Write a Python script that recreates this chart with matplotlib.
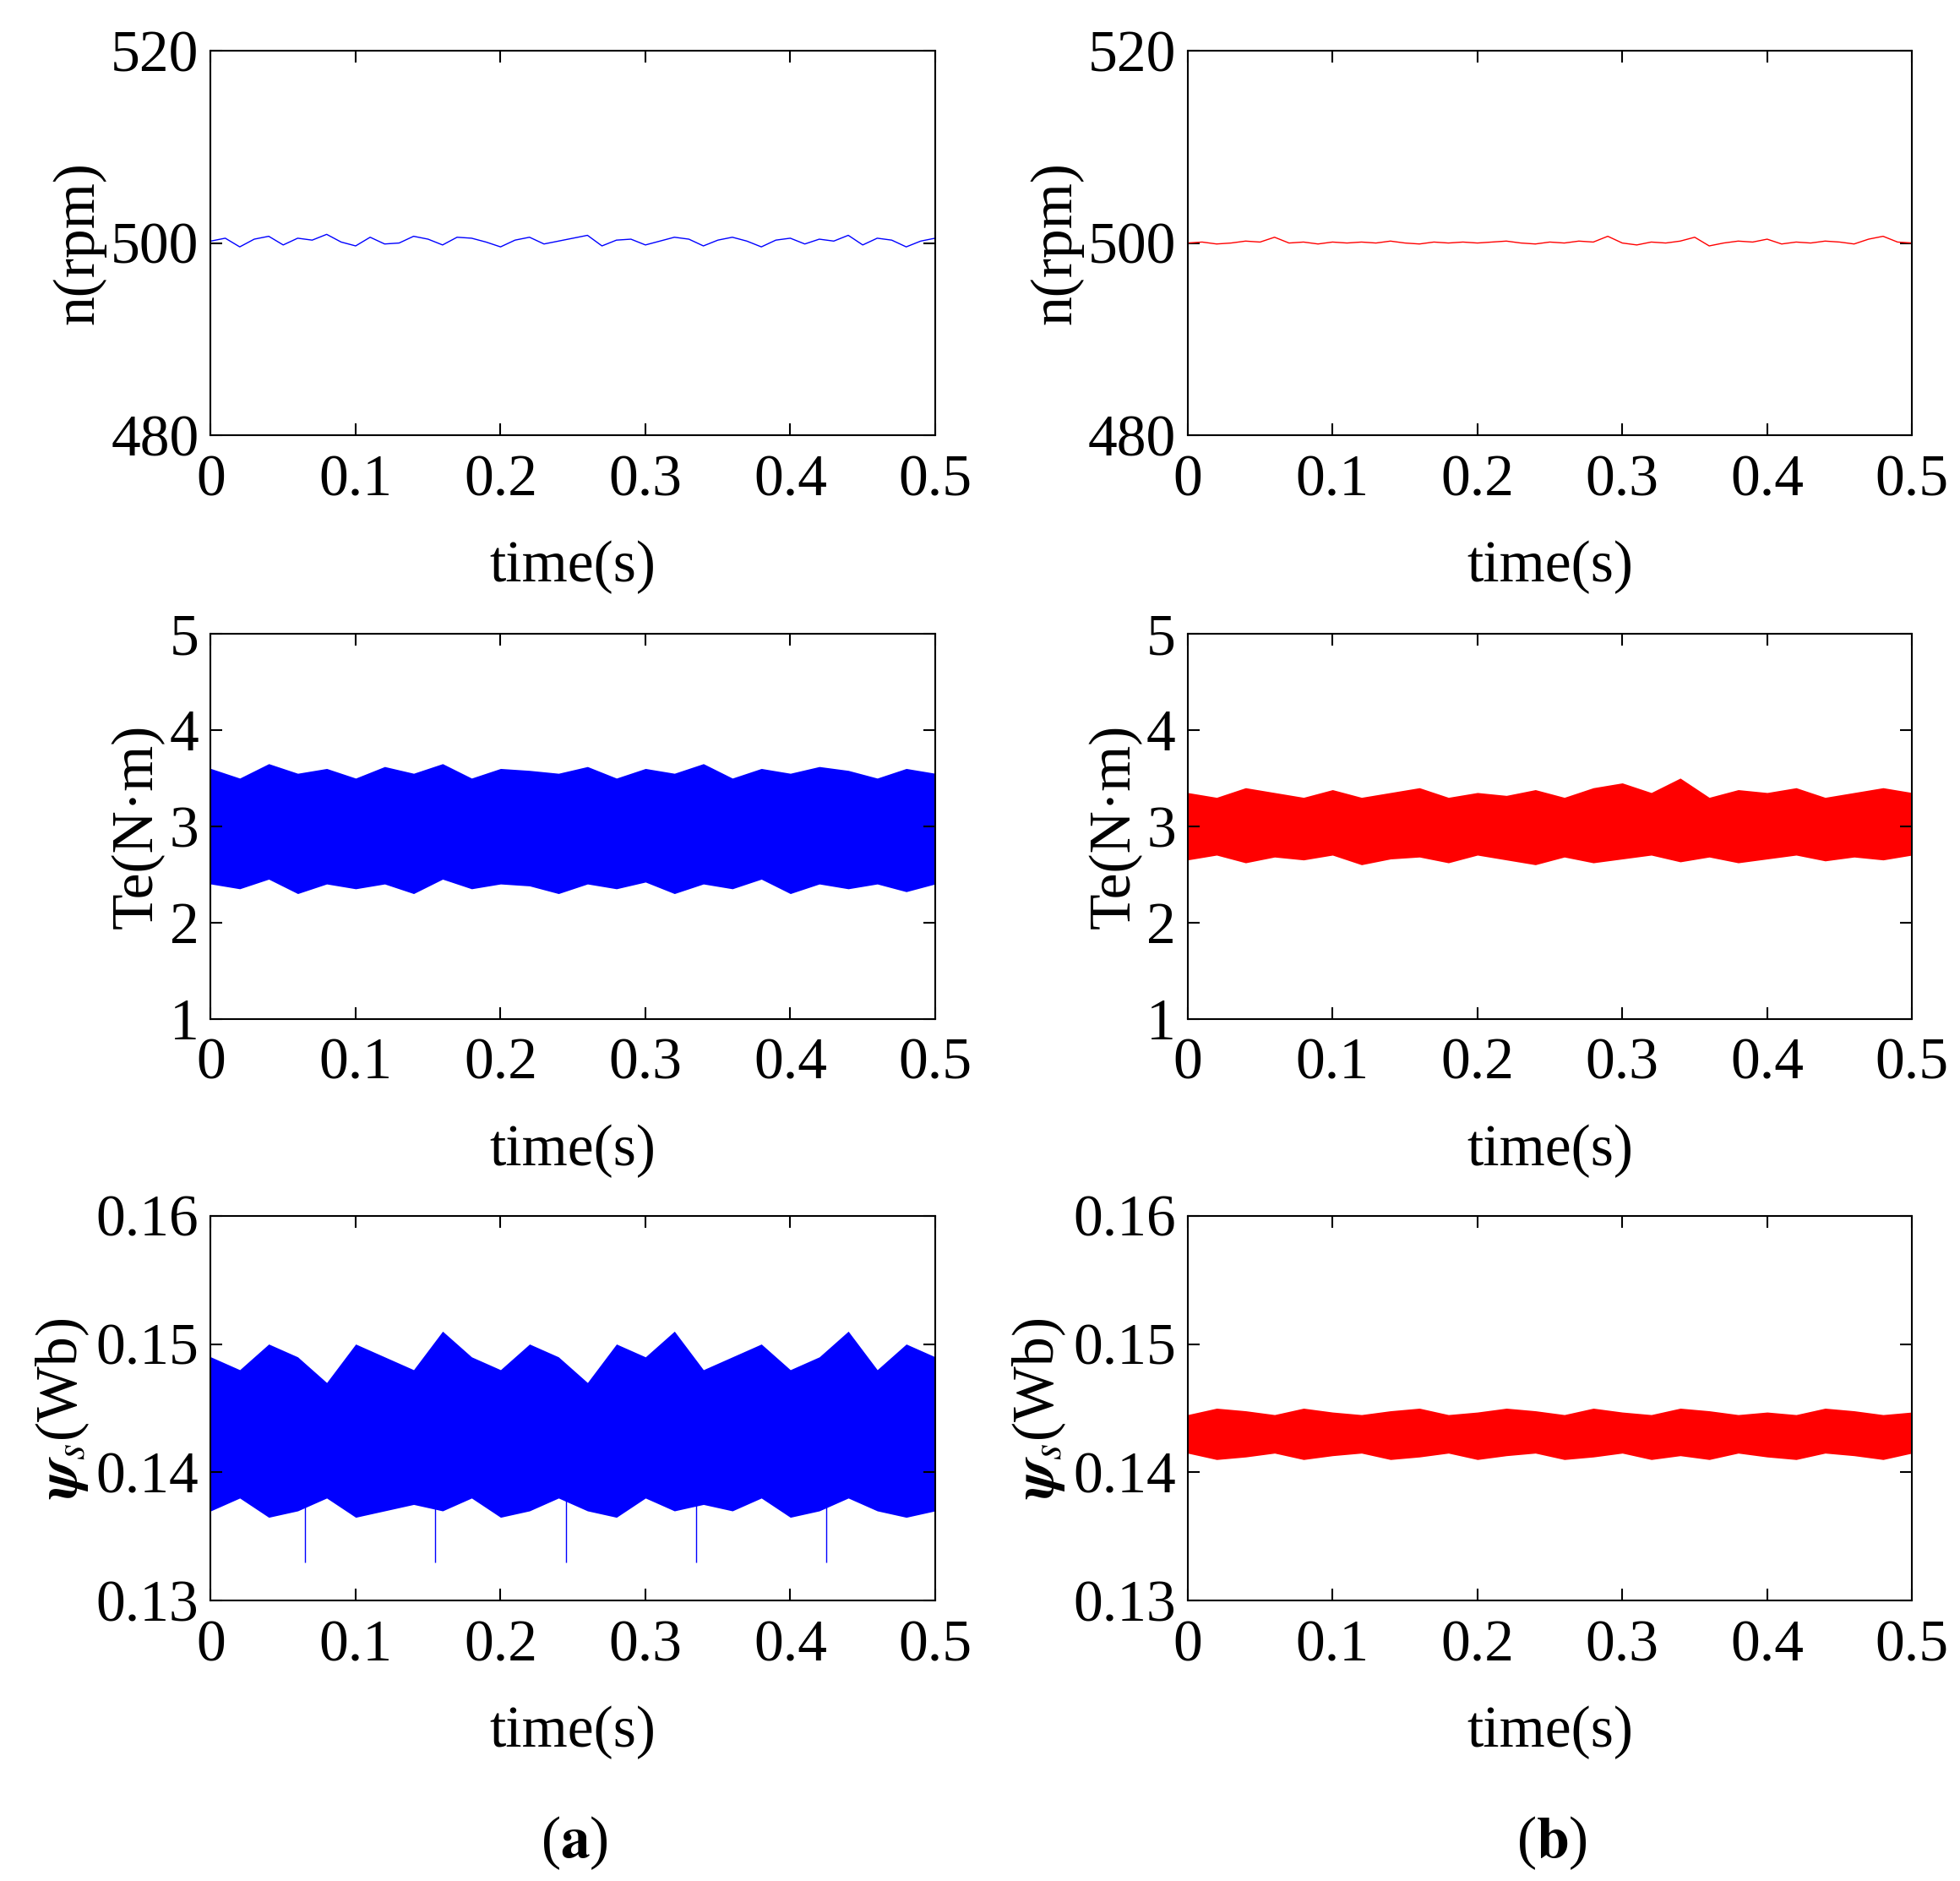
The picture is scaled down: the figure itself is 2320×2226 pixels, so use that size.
import matplotlib
matplotlib.use("Agg")
import matplotlib.pyplot as plt

plt.rcParams['font.family'] = 'Liberation Serif'
plt.rcParams['mathtext.fontset'] = 'stix'

# ---- data ----
t_speed = [i*0.01 for i in range(51)]
speed_a = [500.2,500.5,499.6,500.4,500.7,499.8,500.5,500.3,500.9,500.1,499.7,
           500.6,499.9,500.0,500.7,500.4,499.8,500.6,500.5,500.1,499.6,500.3,
           500.6,499.9,500.2,500.5,500.8,499.7,500.3,500.4,499.8,500.2,500.6,
           500.4,499.7,500.3,500.6,500.2,499.6,500.3,500.5,499.9,500.4,500.2,
           500.8,499.8,500.5,500.3,499.6,500.2,500.5]
speed_b = [500.0,500.1,499.9,500.0,500.2,500.1,500.6,500.0,500.1,499.9,500.1,
           500.0,500.1,500.0,500.2,500.0,499.9,500.1,500.0,500.1,500.0,500.1,
           500.2,500.0,499.9,500.1,500.0,500.2,500.1,500.7,500.0,499.8,500.1,
           500.0,500.2,500.6,499.7,500.0,500.2,500.1,500.4,499.9,500.1,500.0,
           500.2,500.1,499.9,500.4,500.7,500.1,500.0]

t_env = [i*0.02 for i in range(26)]
te_a_hi = [3.6,3.5,3.65,3.55,3.6,3.5,3.62,3.55,3.65,3.5,3.6,3.58,3.55,3.62,3.5,3.6,3.55,3.65,3.5,3.6,3.55,3.62,3.58,3.5,3.6,3.55]
te_a_lo = [2.4,2.35,2.45,2.3,2.4,2.35,2.4,2.3,2.45,2.35,2.4,2.38,2.3,2.4,2.35,2.42,2.3,2.4,2.35,2.45,2.3,2.4,2.35,2.4,2.32,2.4]
te_b_hi = [3.35,3.3,3.4,3.35,3.3,3.38,3.3,3.35,3.4,3.3,3.35,3.32,3.38,3.3,3.4,3.45,3.35,3.5,3.3,3.38,3.35,3.4,3.3,3.35,3.4,3.35]
te_b_lo = [2.65,2.7,2.62,2.68,2.65,2.7,2.6,2.66,2.68,2.62,2.7,2.65,2.6,2.68,2.62,2.66,2.7,2.63,2.68,2.62,2.66,2.7,2.64,2.68,2.65,2.7]
psi_a_hi = [0.149,0.148,0.150,0.149,0.147,0.150,0.149,0.148,0.151,0.149,0.148,0.150,0.149,0.147,0.150,0.149,0.151,0.148,0.149,0.150,0.148,0.149,0.151,0.148,0.150,0.149]
psi_a_lo = [0.137,0.138,0.1365,0.137,0.138,0.1365,0.137,0.1375,0.137,0.138,0.1365,0.137,0.138,0.137,0.1365,0.138,0.137,0.1375,0.137,0.138,0.1365,0.137,0.138,0.137,0.1365,0.137]
psi_b_hi = [0.1445,0.145,0.1448,0.1445,0.145,0.1447,0.1445,0.1448,0.145,0.1445,0.1447,0.145,0.1448,0.1445,0.145,0.1447,0.1445,0.145,0.1448,0.1445,0.1447,0.1445,0.145,0.1448,0.1445,0.1447]
psi_b_lo = [0.1415,0.141,0.1412,0.1415,0.141,0.1413,0.1415,0.141,0.1412,0.1415,0.141,0.1413,0.1415,0.141,0.1412,0.1415,0.141,0.1413,0.141,0.1415,0.1412,0.141,0.1415,0.1413,0.141,0.1415]
psi_spike_t = [0.065,0.155,0.245,0.335,0.425]
psi_spike_v = [0.133,0.133,0.133,0.133,0.133]
xticks = [0,0.1,0.2,0.3,0.4,0.5]
xticklabels = ['0','0.1','0.2','0.3','0.4','0.5']

fig = plt.figure(figsize=(23.2,22.26), dpi=100)
W, H = 1553, 1490
lefts = [167/W, 941/W]
w = 574/W
bottoms = [1-345/H, 1-807/H, 1-1268/H]
h = 305/H
fs = 50

def style(ax, ylim, yticks, ylabel, ytl=None):
    ax.set_xlim(0,0.5); ax.set_ylim(*ylim)
    ax.set_xticks(xticks); ax.set_xticklabels(xticklabels)
    ax.set_yticks(yticks)
    if ytl: ax.set_yticklabels(ytl)
    ax.tick_params(direction='in', top=True, right=True, labelsize=fs, length=10, width=1.5, pad=10)
    ax.tick_params(axis='x', pad=16)
    for s in ax.spines.values(): s.set_linewidth(1.5)
    ax.set_xlabel('time(s)', fontsize=fs, labelpad=28)
    ax.set_ylabel(ylabel, fontsize=fs, labelpad=4)

for c,(col,sp,tehi,telo,phi,plo) in enumerate([('#0000ff',speed_a,te_a_hi,te_a_lo,psi_a_hi,psi_a_lo),
                                             ('#ff0000',speed_b,te_b_hi,te_b_lo,psi_b_hi,psi_b_lo)]):
    ax = fig.add_axes([lefts[c], bottoms[0], w, h])
    ax.plot(t_speed, sp, color=col, lw=1)
    style(ax,(480,520),[480,500,520],'n(rpm)')
    ax = fig.add_axes([lefts[c], bottoms[1], w, h])
    ax.fill_between(t_env, telo, tehi, color=col, lw=0)
    style(ax,(1,5),[1,2,3,4,5],'Te(N·m)')
    ax = fig.add_axes([lefts[c], bottoms[2], w, h])
    ax.fill_between(t_env, plo, phi, color=col, lw=0)
    if c == 0:
        ax.vlines(psi_spike_t, psi_spike_v, 0.14, color=col, lw=1)
    style(ax,(0.13,0.16),[0.13,0.14,0.15,0.16],r'$\boldsymbol{\psi}_{s}$(Wb)',
          ['0.13','0.14','0.15','0.16'])

fig.text((167+743)/2/W, 1-1460/H, r'($\mathbf{a}$)', fontsize=fs, ha='center', va='center')
fig.text((941+1518)/2/W, 1-1460/H, r'($\mathbf{b}$)', fontsize=fs, ha='center', va='center')
fig.savefig('out.png', dpi=100)
